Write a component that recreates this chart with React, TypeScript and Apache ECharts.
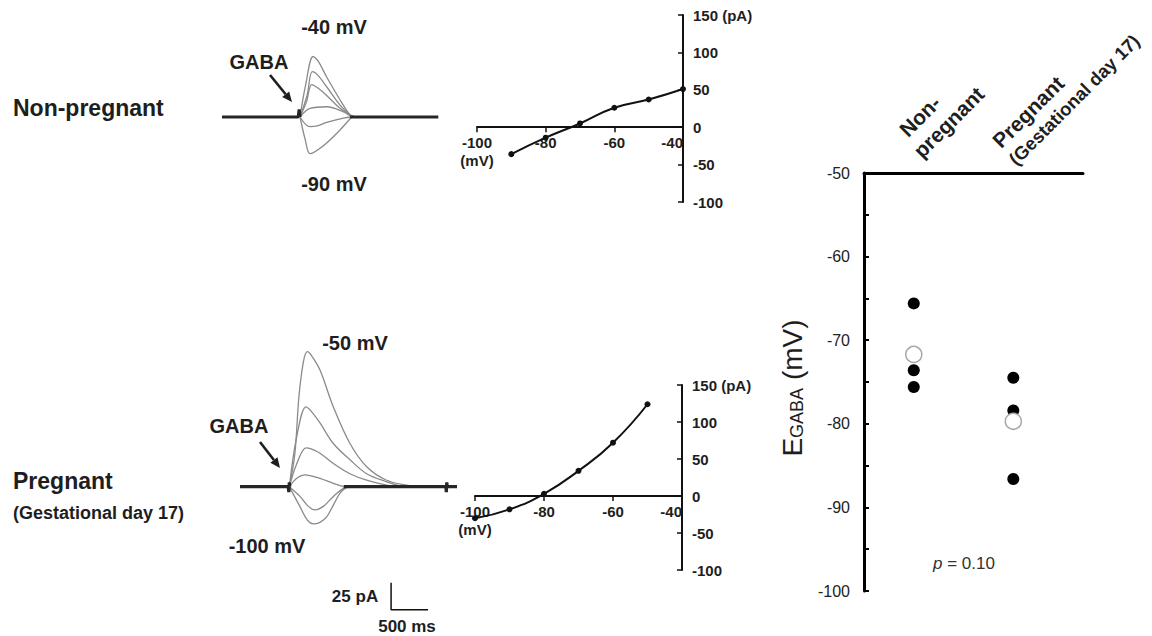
import React, { useEffect, useRef } from 'react';
import * as echarts from 'echarts';

// ---------- Current traces (time in ms, current in pA) ----------
const topHoldingLabels = ['-40 mV', '-90 mV'];
const topTraceM40 = [[1053, 0], [1130, 30], [1230, 56], [1296, 52], [1413, 37], [1593, 16], [1728, 2], [1800, 0]];
const topTraceM50 = [[1053, 0], [1148, 20], [1219, 42], [1290, 39], [1413, 28], [1593, 11], [1728, 2], [1800, 0]];
const topTraceM60 = [[1053, 0], [1140, 14], [1211, 30], [1290, 27], [1413, 20], [1593, 8], [1750, 1], [1800, 0]];
const topTraceM70 = [[1053, 0], [1188, 8], [1413, 9.5], [1634, 5], [1750, 0]];
const topTraceM80 = [[1053, 0], [1188, -9], [1300, -8], [1413, -5], [1638, -1], [1750, 0]];
const topTraceM90 = [[1053, 0], [1120, -20], [1188, -34], [1260, -32], [1413, -24], [1593, -12], [1750, 0]];
const topBaselinePre = [[0, 0], [1030, 0], [1042, 7], [1053, 0]];
const topBaselinePost = [[1730, 0], [2920, 0]];

const bottomHoldingLabels = ['-50 mV', '-100 mV'];
const botTraceM50 = [[666, 0], [740, 30], [810, 93], [909, 125], [970, 121], [1080, 108], [1260, 74], [1485, 40], [1710, 18.5], [1980, 6], [2250, 1.5], [2450, 0]];
const botTraceM60 = [[666, 0], [765, 46], [891, 74], [960, 70], [1080, 59], [1260, 40], [1485, 25], [1710, 12], [1980, 4.5], [2200, 0]];
const botTraceM70 = [[666, 0], [765, 21], [891, 36], [960, 35], [1080, 31], [1260, 21.5], [1485, 12], [1710, 6], [1980, 1.5], [2150, 0]];
const botTraceM80 = [[666, 0], [770, 8], [878, 11], [1080, 7.7], [1260, 3], [1400, 0]];
const botTraceM90 = [[666, 0], [810, -9], [920, -18], [1013, -21.5], [1130, -18], [1260, -9], [1395, -1.5], [1480, 0]];
const botTraceM100 = [[666, 0], [810, -18.5], [910, -31], [990, -34.5], [1080, -33], [1170, -28], [1260, -17], [1350, -6], [1420, -1.5], [1500, 0]];
const botBaselinePre = [[0, 0], [650, 0], [660, -5], [666, 4], [672, 0]];
const botBaselinePost = [[1400, 0], [2780, 0], [2786, -5], [2792, 4], [2798, 0], [2930, 0]];

// scale bar: 25 pA / 500 ms
const scaleBar = [[2040, -89], [2040, -114], [2540, -114]];
const scaleBarLabels = ['25 pA', '500 ms'];

// ---------- I-V relations ----------
const ivNonPregV = [-90, -80, -70, -60, -50, -40];
const ivNonPregI = [-36, -14, 5, 26, 37, 51];
const ivPregV = [-100, -90, -80, -70, -60, -50];
const ivPregI = [-30, -18, 3, 34, 72, 124];
const ivVRange = [-100, -40];
const ivIRange = [-100, 150];

// ---------- E_GABA ----------
const groupNames = ['Non-pregnant', 'Pregnant (Gestational day 17)'];
const egabaNonPreg = [-65.6, -73.6, -75.6];
const egabaPreg = [-74.5, -78.4, -86.6];
const egabaMean = [-71.7, -79.7];
const pText = ['p', ' = 0.10'];

const FONT = '"Liberation Sans", Arial, Helvetica, sans-serif';
const INK = '#1e1e1e';

function txt(text: string, x: number, y: number, size: number, o: any = {}) {
  const align = o.align || 'center';
  const v = o.v || 'middle';
  return {
    type: 'text',
    x,
    y,
    rotation: o.rotation || 0,
    z: 10,
    style: {
      text,
      fontSize: size,
      fontWeight: o.weight || 'bold',
      fontFamily: FONT,
      fill: o.fill || INK,
      align,
      verticalAlign: v,
      textAlign: align,
      textVerticalAlign: v,
      rich: o.rich,
    },
  };
}

function arrow(x1: number, y1: number, x2: number, y2: number) {
  const dx = x2 - x1, dy = y2 - y1;
  const len = Math.sqrt(dx * dx + dy * dy);
  const ux = dx / len, uy = dy / len;
  const bx = x2 - ux * 10, by = y2 - uy * 10;
  const px = -uy * 4.5, py = ux * 4.5;
  return [
    { type: 'line', z: 10, shape: { x1, y1, x2: bx, y2: by }, style: { stroke: INK, lineWidth: 2.6 } },
    { type: 'polygon', z: 10, shape: { points: [[x2, y2], [bx + px, by + py], [bx - px, by - py]] }, style: { fill: INK } },
  ];
}

const traceLine = (data: number[][], axis: number) => ({
  type: 'line', xAxisIndex: axis, yAxisIndex: axis, data, showSymbol: false, smooth: 0.35,
  lineStyle: { color: '#8a8a8a', width: 1.3 }, silent: true, clip: false,
});
const baseLine = (data: number[][], axis: number) => ({
  type: 'line', xAxisIndex: axis, yAxisIndex: axis, data, showSymbol: false, smooth: false,
  lineStyle: { color: '#262626', width: 3.2 }, silent: true, clip: false,
});

const hiddenAxis = (grid: number, min: number, max: number) => ({
  gridIndex: grid, type: 'value', min, max, show: false,
});

// x axis of the I-V plots drawn through I = 0 (offset up from the grid bottom)
const ivX = (grid: number, gridHeight: number) => ({
  gridIndex: grid, type: 'value', min: ivVRange[0], max: ivVRange[1], interval: 20,
  offset: -gridHeight * (0 - ivIRange[0]) / (ivIRange[1] - ivIRange[0]),
  axisLine: { onZero: false, lineStyle: { color: '#111', width: 2 } },
  axisTick: { show: true, length: 5, lineStyle: { color: '#111', width: 1.5 } },
  axisLabel: {
    fontSize: 15, fontWeight: 'bold', color: INK, fontFamily: FONT, margin: 6, lineHeight: 18,
    alignMaxLabel: 'right',
    formatter: (v: number) => (v === -100 ? '-100\n(mV)' : String(v)),
  },
  splitLine: { show: false },
});
const ivY = (grid: number) => ({
  gridIndex: grid, type: 'value', min: ivIRange[0], max: ivIRange[1], interval: 50, position: 'right',
  axisLine: { show: true, onZero: false, lineStyle: { color: '#111', width: 2 } },
  axisTick: { show: true, inside: true, length: 5, lineStyle: { color: '#111', width: 1.5 } },
  axisLabel: {
    fontSize: 15, fontWeight: 'bold', color: INK, fontFamily: FONT, margin: 10,
    padding: [10, 0, 0, 0],
    formatter: (v: number) => (v === 150 ? '150 (pA)' : String(v)),
  },
  splitLine: { show: false },
});

export default function App() {
  const ref = useRef<HTMLDivElement>(null);
  useEffect(() => {
    if (!ref.current) return;
    const chart = echarts.init(ref.current, undefined, { renderer: 'svg' });
    const graphic: any[] = [
      // row labels
      txt('Non-pregnant', 13, 108, 23, { align: 'left' }),
      txt('Pregnant', 13, 481, 23, { align: 'left' }),
      txt('(Gestational day 17)', 13, 513, 18, { align: 'left' }),
      // trace labels
      txt(topHoldingLabels[0], 334, 27, 20),
      txt(topHoldingLabels[1], 334, 184, 20),
      txt('GABA', 259, 62, 20),
      ...arrow(270, 75, 292, 102),
      txt(bottomHoldingLabels[0], 355, 343, 20),
      txt(bottomHoldingLabels[1], 267, 546, 20),
      txt('GABA', 239, 426, 20),
      ...arrow(260, 442, 280, 468),
      txt(scaleBarLabels[0], 355, 596, 17),
      txt(scaleBarLabels[1], 407, 626, 17),
      // group labels (rotated)
      txt('Non-', 903, 133, 21, { align: 'left', rotation: Math.PI / 4 }),
      txt('pregnant', 917, 154, 21, { align: 'left', rotation: Math.PI / 4 }),
      txt(groupNames[1].split(' (')[0], 996, 144, 21, { align: 'left', rotation: Math.PI / 4 }),
      txt('(' + groupNames[1].split(' (')[1], 1012, 162, 18.5, { align: 'left', rotation: Math.PI / 4 }),
      // y axis title
      txt('{e|E}{s|GABA}{e| (mV)}', 791, 388, 28, {
        weight: 'normal',
        rotation: Math.PI / 2,
        rich: {
          e: { fontSize: 28, fontFamily: FONT, fill: INK, color: INK, lineHeight: 30, verticalAlign: 'bottom' },
          s: { fontSize: 18, fontFamily: FONT, fill: INK, color: INK, lineHeight: 10, verticalAlign: 'bottom' },
        },
      }),
      txt('{i|' + pText[0] + '}{r|' + pText[1] + '}', 964, 563, 17, {
        weight: 'normal',
        rich: {
          i: { fontSize: 17, fontStyle: 'italic', fontFamily: FONT, fill: '#333', color: '#333' },
          r: { fontSize: 17, fontFamily: FONT, fill: '#333', color: '#333' },
        },
      }),
    ];

    const option: any = {
      animation: false,
      textStyle: { fontFamily: FONT },
      grid: [
        { left: 222, top: 41.4, width: 216.3, height: 129.6 },
        { left: 240, top: 324.7, width: 217, height: 291.6 },
        { left: 477, top: 15, width: 206, height: 187 },
        { left: 475, top: 385, width: 207, height: 185 },
        { left: 864, top: 173, width: 219, height: 418 },
      ],
      xAxis: [
        hiddenAxis(0, 0, 2920),
        hiddenAxis(1, 0, 2930),
        ivX(2, 187),
        ivX(3, 185),
        {
          gridIndex: 4, type: 'value', min: 0, max: 4.4, position: 'top',
          axisLine: { show: true, onZero: false, lineStyle: { color: '#000', width: 3 } },
          axisTick: { show: false }, axisLabel: { show: false }, splitLine: { show: false },
        },
      ],
      yAxis: [
        hiddenAxis(0, -50, 70),
        hiddenAxis(1, -120, 150),
        ivY(2),
        ivY(3),
        {
          gridIndex: 4, type: 'value', min: -100, max: -50, interval: 10,
          axisLine: { show: true, onZero: false, lineStyle: { color: '#000', width: 3 } },
          axisTick: { show: true, inside: true, length: 5, lineStyle: { color: '#000', width: 2 } },
          minorTick: { show: true, splitNumber: 2, length: 5, lineStyle: { color: '#000', width: 2 } },
          axisLabel: { fontSize: 16, color: '#222', margin: 14, fontFamily: FONT },
          splitLine: { show: false }, minorSplitLine: { show: false },
        },
      ],
      series: [
        traceLine(topTraceM40, 0), traceLine(topTraceM50, 0), traceLine(topTraceM60, 0),
        traceLine(topTraceM70, 0), traceLine(topTraceM80, 0), traceLine(topTraceM90, 0),
        baseLine(topBaselinePre, 0), baseLine(topBaselinePost, 0),
        traceLine(botTraceM50, 1), traceLine(botTraceM60, 1), traceLine(botTraceM70, 1),
        traceLine(botTraceM80, 1), traceLine(botTraceM90, 1), traceLine(botTraceM100, 1),
        baseLine(botBaselinePre, 1), baseLine(botBaselinePost, 1),
        {
          type: 'line', xAxisIndex: 1, yAxisIndex: 1, data: scaleBar, showSymbol: false,
          lineStyle: { color: '#111', width: 1.5 }, silent: true,
        },
        {
          type: 'line', xAxisIndex: 2, yAxisIndex: 2, smooth: true,
          data: ivNonPregV.map((v, i) => [v, ivNonPregI[i]]),
          symbol: 'circle', symbolSize: 6, itemStyle: { color: '#111' },
          lineStyle: { color: '#111', width: 2 },
        },
        {
          type: 'line', xAxisIndex: 3, yAxisIndex: 3, smooth: true,
          data: ivPregV.map((v, i) => [v, ivPregI[i]]),
          symbol: 'circle', symbolSize: 6, itemStyle: { color: '#111' },
          lineStyle: { color: '#111', width: 2 },
        },
        {
          type: 'scatter', xAxisIndex: 4, yAxisIndex: 4, symbolSize: 12,
          itemStyle: { color: '#000', opacity: 1 },
          data: [...egabaNonPreg.map((v) => [1, v]), ...egabaPreg.map((v) => [3, v])],
        },
        {
          type: 'scatter', xAxisIndex: 4, yAxisIndex: 4, symbolSize: 16, z: 5,
          itemStyle: { color: '#fff', borderColor: '#a8a8a8', borderWidth: 1.5, opacity: 1 },
          data: egabaMean.map((v, i) => [i === 0 ? 1 : 3, v]),
        },
      ],
      graphic,
    };
    chart.setOption(option);
    return () => chart.dispose();
  }, []);
  return <div ref={ref} style={{ position: 'fixed', left: 0, top: 0, width: 1152, height: 636, background: '#fff' }} />;
}
